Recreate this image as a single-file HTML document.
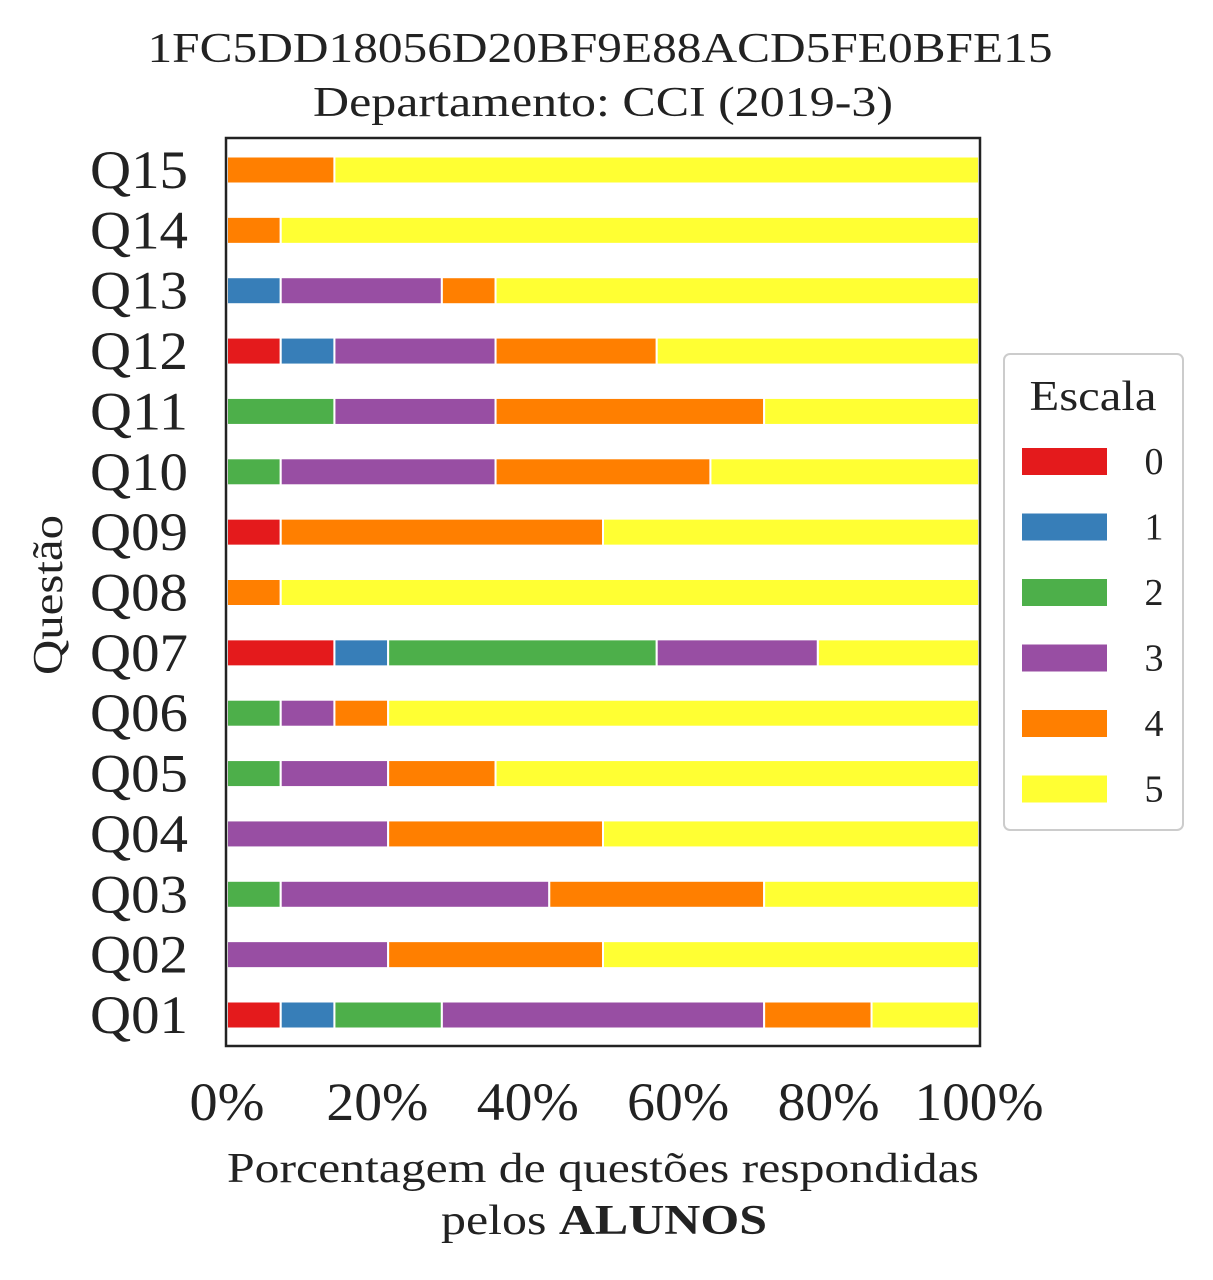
<!DOCTYPE html>
<html><head><meta charset="utf-8"><style>
body{margin:0;background:#fff;}
svg text{font-family:"Liberation Serif",serif;fill:#222;}
</style></head><body>
<svg width="1213" height="1275" viewBox="0 0 1213 1275" xmlns="http://www.w3.org/2000/svg">
<text x="600" y="62" font-size="42" text-anchor="middle" textLength="905" lengthAdjust="spacingAndGlyphs">1FC5DD18056D20BF9E88ACD5FE0BFE15</text>
<text x="603" y="116" font-size="42" text-anchor="middle" textLength="580" lengthAdjust="spacingAndGlyphs">Departamento: CCI (2019-3)</text>
<g id="bars"></g>
<rect x="226" y="138" width="754" height="908" fill="none" stroke="#222" stroke-width="2.5"/>
<g id="yticks"></g><g id="xticks"></g>
<text transform="translate(62,595) rotate(-90)" font-size="42" text-anchor="middle" textLength="160" lengthAdjust="spacingAndGlyphs">Questão</text>
<text x="603" y="1182" font-size="42" text-anchor="middle" textLength="752" lengthAdjust="spacingAndGlyphs">Porcentagem de questões respondidas</text>
<text x="604" y="1234" font-size="42" text-anchor="middle" textLength="326" lengthAdjust="spacingAndGlyphs">pelos <tspan font-weight="bold">ALUNOS</tspan></text>
<g>
<rect x="1004" y="354" width="179" height="476" rx="6" fill="#fff" stroke="#ccc" stroke-width="2"/>
<text x="1093" y="410" font-size="42" text-anchor="middle" textLength="127" lengthAdjust="spacingAndGlyphs">Escala</text>
<g id="legend"></g>
</g>
</svg>
<script>
const categories=["Q01","Q02","Q03","Q04","Q05","Q06","Q07","Q08","Q09","Q10","Q11","Q12","Q13","Q14","Q15"];
const scaleLabels=["0","1","2","3","4","5"];
const colors=["#e41a1c","#377eb8","#4daf4a","#984ea3","#ff7f00","#ffff33"];
// counts per scale (0..5) out of 14 responses
const s0=[1,0,0,0,0,0,2,0,1,0,0,1,0,0,0];
const s1=[1,0,0,0,0,0,1,0,0,0,0,1,1,0,0];
const s2=[2,0,1,0,1,1,5,0,0,1,2,0,0,0,0];
const s3=[6,3,5,3,2,1,3,0,0,4,3,3,3,0,0];
const s4=[2,4,4,4,2,1,0,1,6,4,5,3,1,1,2];
const s5=[2,7,4,7,9,11,3,13,7,5,4,6,9,13,12];
const xTicks=[0,20,40,60,80,100];
const series=[s0,s1,s2,s3,s4,s5];
const NS="http://www.w3.org/2000/svg";
const x0=227,x1=979,yTop=170,yBot=1015,bh=27;
const xs=p=>x0+(x1-x0)*p/100;
const ys=i=>yBot-(yBot-yTop)*i/(categories.length-1);
const bars=document.getElementById('bars');
categories.forEach((c,i)=>{
  let tot=0;series.forEach(s=>tot+=s[i]);
  let acc=0;
  series.forEach((s,k)=>{
    if(!s[i])return;
    const r=document.createElementNS(NS,'rect');
    const a=xs(acc/tot*100),b=xs((acc+s[i])/tot*100);
    r.setAttribute('x',a);r.setAttribute('width',b-a);
    r.setAttribute('y',ys(i)-bh/2);r.setAttribute('height',bh);
    r.setAttribute('fill',colors[k]);r.setAttribute('stroke','#fff');r.setAttribute('stroke-width','2');
    
    
    bars.appendChild(r);acc+=s[i];
  });
  const t=document.createElementNS(NS,'text');
  t.setAttribute('x',188);t.setAttribute('y',ys(i)+18);t.setAttribute('font-size','54');t.setAttribute('text-anchor','end');
  t.setAttribute('textLength','98');t.setAttribute('lengthAdjust','spacingAndGlyphs');
  t.textContent=c;
  
  
  document.getElementById('yticks').appendChild(t);
});
xTicks.forEach(v=>{
  const t=document.createElementNS(NS,'text');
  const lbl=v+'%';
  t.setAttribute('x',xs(v));t.setAttribute('y',1120);t.setAttribute('font-size','54');t.setAttribute('text-anchor','middle');
  t.setAttribute('textLength',String(27*(lbl.length-1)+48));t.setAttribute('lengthAdjust','spacingAndGlyphs');
  t.textContent=lbl;
  
  
  document.getElementById('xticks').appendChild(t);
});
const lg=document.getElementById('legend');
scaleLabels.forEach((l,k)=>{
  const y=461+k*65.5;
  const r=document.createElementNS(NS,'rect');
  r.setAttribute('x',1022);r.setAttribute('y',y-13);r.setAttribute('width',85);r.setAttribute('height',27);r.setAttribute('fill',colors[k]);
  
  
  lg.appendChild(r);
  const t=document.createElementNS(NS,'text');
  t.setAttribute('x',1154);t.setAttribute('y',y+13);t.setAttribute('font-size','38');t.setAttribute('text-anchor','middle');
  t.textContent=l;
  
  
  lg.appendChild(t);
});
</script>
</body></html>
